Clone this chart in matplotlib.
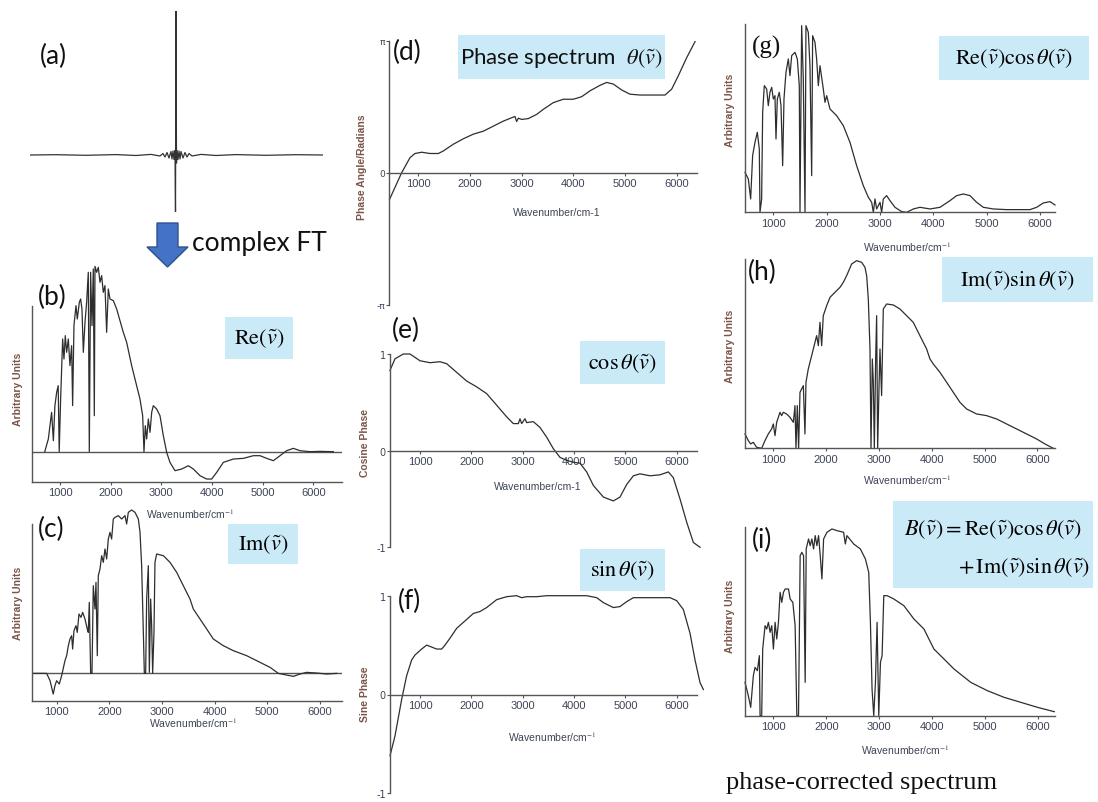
import matplotlib
matplotlib.use('Agg')
import matplotlib.pyplot as plt
from matplotlib.patches import Rectangle, Polygon
import numpy as np

plt.rcParams['mathtext.fontset'] = 'stix'

# (a) interferogram, optical path difference vs signal (arbitrary)
opd_a = [-146, -120, -90, -60, -40, -25, -16, -13, -11, -9, -7, -5, -4, -3, -2, -1,
         -0.5, 0, 0.5, 1, 2, 3, 4, 5, 7, 9, 11, 13, 16, 25, 40, 60, 90, 120, 147]
sig_a = [0, 0.3, -0.3, 0.4, -0.5, 0.6, -1.0, 1.5, -2.0, 2.5, -3.0, 3.5, -4.0, 4.0,
         -4.5, 4.5, -57, 144, -8, 4.5, -4.5, 4.0, -4.0, 3.5, -3.0, 2.5, -2.0, 1.5,
         -1.0, 0.6, -0.5, 0.4, -0.3, 0.3, 0]

# (b) real part
wn_b = [700, 770, 835, 870, 900, 935, 965, 985, 1013, 1053, 1079, 1105, 1132, 1165,
        1197, 1230, 1250, 1276, 1316, 1342, 1382, 1408, 1434, 1461, 1494, 1526, 1559,
        1579, 1605, 1632, 1658, 1678, 1691, 1724, 1757, 1790, 1823, 1855, 1888, 1921,
        1954, 1987, 2053, 2119, 2184, 2250, 2316, 2415, 2513, 2579, 2632, 2658, 2684,
        2711, 2744, 2777, 2810, 2842, 2908, 2974, 3040, 3106, 3171, 3270, 3402, 3533,
        3632, 3764, 3895, 3994, 4093, 4224, 4422, 4619, 4816, 4948, 5080, 5211, 5343,
        5474, 5606, 5738, 5935, 6132, 6396]
re_b = [0, 38, 118, 33, 138, 178, 198, 0, 158, 338, 278, 348, 298, 338, 258, 318, 138,
        378, 438, 398, 448, 458, 428, 298, 388, 448, 538, 0, 538, 378, 548, 108, 556,
        538, 553, 508, 528, 478, 498, 358, 488, 458, 453, 428, 393, 358, 328, 258, 198,
        158, 108, 0, 78, 38, 98, 58, 118, 138, 128, 108, 48, -2, -32, -57, -52, -42,
        -52, -72, -82, -82, -62, -32, -22, -20, -12, -12, -20, -27, -12, 3, 10, 3, 0,
        1, 0]

# (c) imaginary part
wn_c = [560, 810, 875, 935, 968, 1000, 1050, 1095, 1158, 1190, 1222, 1253, 1285, 1304,
        1329, 1367, 1392, 1424, 1462, 1494, 1538, 1582, 1601, 1620, 1646, 1671, 1696,
        1728, 1747, 1772, 1791, 1823, 1855, 1886, 1918, 1950, 1981, 2013, 2044, 2076,
        2108, 2171, 2234, 2298, 2329, 2361, 2424, 2488, 2551, 2583, 2614, 2646, 2665,
        2690, 2709, 2741, 2760, 2785, 2804, 2823, 2848, 2867, 2899, 3026, 3152, 3279,
        3405, 3532, 3595, 3722, 3849, 3975, 4165, 4355, 4608, 4861, 5051, 5209, 5367,
        5494, 5621, 5747, 5937, 6127, 6317]
im_c = [0, 0, -22, -62, -37, -22, -32, -7, 38, 53, 83, 103, 113, 73, 128, 143, 123,
        178, 168, 183, 163, 133, 123, 213, 0, 0, 263, 193, 273, 53, 293, 313, 353, 333,
        373, 343, 403, 423, 403, 463, 468, 473, 463, 473, 448, 483, 490, 483, 463, 423,
        323, 123, 0, 0, 223, 323, 3, 223, 143, 0, 123, 333, 358, 353, 333, 303, 263,
        223, 193, 163, 133, 103, 83, 68, 53, 33, 18, 0, -5, -9, -2, 3, 1, -2, 0]

# (d) phase spectrum, radians
wn_d = [440, 677, 839, 935, 1065, 1226, 1387, 1484, 1677, 1871, 2064, 2258, 2451, 2645,
        2806, 2870, 2903, 2935, 3000, 3129, 3290, 3419, 3612, 3806, 3999, 4160, 4322,
        4515, 4644, 4773, 4935, 5096, 5289, 5547, 5773, 5902, 6031, 6193, 6354]
phase_d = [-0.64, 0.0, 0.36, 0.46, 0.49, 0.46, 0.46, 0.52, 0.68, 0.81, 0.92, 0.99,
           1.11, 1.23, 1.31, 1.34, 1.22, 1.30, 1.27, 1.29, 1.39, 1.51, 1.67, 1.75, 1.75,
           1.81, 1.95, 2.08, 2.15, 2.11, 1.97, 1.87, 1.85, 1.85, 1.85, 1.99, 2.31, 2.74,
           3.12]

# (e) cosine of phase
wn_e = [415, 513, 675, 805, 1000, 1195, 1389, 1519, 1714, 1909, 2103, 2298, 2493, 2687,
        2817, 2915, 2947, 2979, 3044, 3077, 3207, 3336, 3466, 3596, 3726, 3856, 3985,
        4115, 4245, 4375, 4570, 4764, 4894, 5024, 5154, 5283, 5478, 5673, 5835, 5932,
        6062, 6192, 6322, 6452]
cos_e = [0.83, 0.95, 1.0, 1.0, 0.93, 0.91, 0.92, 0.90, 0.81, 0.72, 0.66, 0.59, 0.47,
         0.35, 0.28, 0.28, 0.33, 0.28, 0.33, 0.29, 0.30, 0.24, 0.14, 0.02, -0.07, -0.10,
         -0.12, -0.13, -0.22, -0.36, -0.48, -0.52, -0.48, -0.35, -0.26, -0.24, -0.26,
         -0.25, -0.22, -0.28, -0.50, -0.74, -0.95, -1.0]

# (f) sine of phase
wn_f = [416, 513, 643, 740, 838, 903, 1032, 1130, 1227, 1325, 1422, 1487, 1584, 1714,
        1909, 2038, 2168, 2298, 2493, 2687, 2882, 2979, 3077, 3272, 3466, 3726, 3985,
        4245, 4440, 4570, 4764, 4894, 5024, 5154, 5348, 5608, 5868, 5997, 6127, 6257,
        6354, 6452, 6517]
sin_f = [-0.62, -0.42, -0.05, 0.19, 0.35, 0.40, 0.46, 0.50, 0.48, 0.46, 0.46, 0.50,
         0.57, 0.67, 0.76, 0.82, 0.84, 0.88, 0.96, 0.99, 1.0, 0.98, 0.99, 0.99, 1.0,
         1.0, 1.0, 1.0, 0.98, 0.93, 0.88, 0.89, 0.94, 0.98, 0.98, 0.98, 0.98, 0.95,
         0.86, 0.62, 0.35, 0.12, 0.05]

# (g) Re * cos
wn_g = [469, 531, 575, 612, 656, 700, 737, 750, 781, 800, 831, 875, 906, 937, 969,
        1000, 1031, 1050, 1075, 1112, 1144, 1175, 1200, 1237, 1281, 1312, 1344, 1406,
        1450, 1487, 1500, 1531, 1562, 1594, 1612, 1656, 1687, 1719, 1737, 1781, 1812,
        1844, 1875, 1937, 1969, 2000, 2062, 2187, 2312, 2437, 2562, 2687, 2781, 2844,
        2875, 2906, 2937, 3000, 3031, 3062, 3125, 3187, 3281, 3406, 3500, 3625, 3750,
        3937, 4125, 4312, 4437, 4562, 4687, 4812, 4937, 5125, 5375, 5625, 5812, 5937,
        6062, 6187, 6281]
recos_g = [120, 100, 40, 170, 210, 240, 190, 0, 40, 300, 380, 370, 320, 360, 375, 340,
           350, 220, 340, 360, 320, 140, 340, 420, 460, 410, 470, 480, 460, 380, 0, 560,
           400, 0, 560, 540, 440, 110, 530, 510, 460, 380, 440, 370, 330, 350, 310, 290,
           260, 210, 140, 80, 45, 30, 0, 40, 10, 30, 0, 40, 50, 35, 15, 2, 0, 10, 15, 10,
           15, 35, 50, 55, 50, 30, 15, 10, 8, 8, 8, 15, 28, 32, 22]

# (h) Im * sin
wn_h = [464, 527, 571, 621, 684, 779, 842, 905, 968, 1000, 1032, 1063, 1095, 1126,
        1158, 1189, 1252, 1315, 1379, 1410, 1429, 1454, 1479, 1505, 1536, 1568, 1599,
        1618, 1662, 1726, 1789, 1820, 1852, 1883, 1915, 1946, 2010, 2073, 2167, 2262,
        2325, 2388, 2483, 2577, 2672, 2735, 2767, 2798, 2830, 2849, 2874, 2893, 2912,
        2937, 2956, 2975, 3000, 3019, 3050, 3082, 3145, 3271, 3397, 3523, 3649, 3775,
        3902, 3965, 4028, 4154, 4281, 4407, 4533, 4659, 4848, 5038, 5227, 5416, 5606,
        5795, 5984, 6142, 6300]
imsin_h = [43, 23, 13, 18, 3, 0, 23, 43, 58, 73, 38, 78, 93, 108, 98, 108, 103, 93, 78,
           128, 0, 128, 0, 168, 178, 188, 43, 198, 238, 278, 318, 338, 308, 378, 308,
           398, 428, 453, 468, 483, 498, 518, 553, 563, 558, 543, 518, 448, 298, 0, 268,
           198, 0, 268, 398, 0, 178, 298, 158, 418, 433, 430, 418, 398, 378, 338, 298,
           268, 253, 228, 198, 168, 138, 118, 103, 98, 88, 73, 58, 43, 28, 13, 0]

# (i) phase-corrected spectrum
wn_i = [462, 525, 570, 620, 652, 696, 734, 747, 778, 797, 842, 873, 905, 937, 968, 1000,
        1032, 1063, 1095, 1127, 1158, 1190, 1222, 1285, 1317, 1367, 1411, 1443, 1475,
        1506, 1538, 1570, 1601, 1620, 1665, 1696, 1728, 1760, 1791, 1823, 1855, 1886,
        1918, 1950, 2013, 2108, 2203, 2329, 2361, 2392, 2519, 2646, 2741, 2804, 2836,
        2867, 2899, 2931, 2962, 2994, 3026, 3057, 3089, 3152, 3279, 3469, 3659, 3849,
        4038, 4165, 4418, 4735, 5051, 5367, 5684, 6000, 6317]
b_i = [100, 60, 25, 120, 145, 135, 180, 0, 0, 200, 270, 260, 280, 250, 270, 200, 280,
       230, 280, 370, 340, 370, 380, 380, 350, 340, 270, 0, 0, 480, 490, 480, 100, 500,
       530, 510, 530, 500, 540, 510, 540, 480, 410, 530, 550, 560, 555, 550, 515, 540,
       515, 500, 470, 430, 280, 80, 0, 100, 280, 0, 160, 180, 360, 360, 350, 330, 290,
       260, 200, 180, 140, 100, 75, 55, 40, 25, 12]

wn_ticks = [1000, 2000, 3000, 4000, 5000, 6000]

W, H = 1098, 803
LINE = '#2e2e2e'
SPINE = '#555555'
TICKC = '#3e4456'
YLABC = '#7a5448'
BOXC = '#cbeaf8'
SANS = 'Liberation Sans'

fig = plt.figure(figsize=(W / 100, H / 100), dpi=100)


def rect(x0, y0, x1, y1):
    return [x0 / W, 1 - y1 / H, (x1 - x0) / W, (y1 - y0) / H]


def fx(x):
    return x / W


def fy(y):
    return 1 - y / H


def setup(ax, xlim, ylim, zero_axis=False):
    ax.set_xlim(xlim)
    ax.set_ylim(ylim)
    ax.patch.set_alpha(0)
    for s in ('top', 'right'):
        ax.spines[s].set_visible(False)
    for s in ('left', 'bottom'):
        ax.spines[s].set_color(SPINE)
        ax.spines[s].set_linewidth(1.0)
    if zero_axis:
        ax.spines['bottom'].set_position(('data', 0))
    ax.set_xticks(wn_ticks)
    ax.set_xticklabels([str(t) for t in wn_ticks])
    ax.tick_params(axis='x', length=2, width=0.8, color=SPINE, pad=2,
                   labelsize=8, labelcolor=TICKC)
    for lab in ax.get_xticklabels():
        lab.set_family(SANS)


def box(x0, y0, x1, y1):
    fig.add_artist(Rectangle((fx(x0), fy(y1)), fx(x1 - x0), (y1 - y0) / H,
                             transform=fig.transFigure, facecolor=BOXC,
                             edgecolor='none', zorder=0))


def ylab(x, y, s, size=7.5):
    fig.text(fx(x), fy(y), s, rotation=90, ha='center', va='center',
             fontsize=size, color=YLABC, family=SANS, fontweight='bold')


def xlab(x, y, s, size=7.5):
    fig.text(fx(x), fy(y), s, ha='center', va='center', fontsize=size,
             color=TICKC, family=SANS)


def panel_label(x, y, s, family='Lato', size=19):
    fig.text(fx(x), fy(y), s, ha='left', va='center', fontsize=size,
             family=family, color='#111111')


# ---- (a) interferogram
ax_a = fig.add_axes(rect(30, 12, 323, 213))
ax_a.set_xlim(-146, 147)
ax_a.set_ylim(-57, 144)
ax_a.axis('off')
ax_a.plot(opd_a, sig_a, color='#333333', lw=0.9)
panel_label(40, 56, '(a)')

# arrow + text
arrow = [(157, 224), (178, 224), (178, 248), (188, 248), (167.5, 268),
         (147, 248), (157, 248)]
fig.add_artist(Polygon([(fx(x), fy(y)) for x, y in arrow], closed=True,
                       transform=fig.transFigure, facecolor='#4472c4',
                       edgecolor='#2f528f', lw=1))
fig.text(fx(192), fy(243), 'complex FT', ha='left', va='center', fontsize=19,
         family='Lato', color='#111111')

# ---- (b)
ax_b = fig.add_axes(rect(32.3, 267.3, 341.7, 482.7))
setup(ax_b, (454, 6560), (-90, 556))
ax_b.spines['left'].set_bounds(-90, 438)
ax_b.set_yticks([])
ax_b.axhline(0, color=SPINE, lw=1.0)
ax_b.plot(wn_b, re_b, color=LINE, lw=0.9, clip_on=False)
panel_label(38, 297, '(b)')
box(225, 318, 293, 360)
fig.text(fx(259), fy(339), r'$\mathrm{Re}(\tilde{v})$', ha='center', va='center',
         fontsize=16)
ylab(18, 389, 'Arbitrary Units')
xlab(190, 514, 'Wavenumber/cm$^{-1}$')

# ---- (c)
ax_c = fig.add_axes(rect(32.3, 511, 341.7, 701.7))
setup(ax_c, (538, 6412), (-82, 490))
ax_c.spines['left'].set_bounds(-82, 448)
ax_c.set_yticks([])
ax_c.axhline(0, color=SPINE, lw=1.0)
ax_c.plot(wn_c, im_c, color=LINE, lw=0.9, clip_on=False)
panel_label(38, 529, '(c)')
box(228, 525, 298, 565)
fig.text(fx(263), fy(545), r'$\mathrm{Im}(\tilde{v})$', ha='center', va='center',
         fontsize=16)
ylab(18, 603, 'Arbitrary Units')
xlab(193, 723, 'Wavenumber/cm$^{-1}$')

# ---- (d)
ax_d = fig.add_axes(rect(389.3, 41.7, 696.7, 306))
setup(ax_d, (439, 6386), (-np.pi, np.pi), zero_axis=True)
ax_d.set_yticks([-np.pi, 0, np.pi])
ax_d.set_yticklabels(['-π', '0', 'π'])
ax_d.tick_params(axis='y', length=2, width=0.8, color=SPINE, pad=1,
                 labelsize=6.5, labelcolor=TICKC)
ax_d.plot(wn_d, phase_d, color=LINE, lw=0.9, clip_on=False)
panel_label(393, 52, '(d)')
box(458, 36, 665, 80)
fig.text(fx(561), fy(58), r'Phase spectrum  $\theta(\tilde{v})$', ha='center',
         va='center', fontsize=16, family='Lato', color='#111111')
ylab(362, 167, 'Phase Angle/Radians', size=7.5)
xlab(557, 213, 'Wavenumber/cm-1', size=7.5)

# ---- (e)
ax_e = fig.add_axes(rect(390, 355, 696.7, 548.3))
setup(ax_e, (416, 6387), (-1, 1), zero_axis=True)
ax_e.set_yticks([-1, 0, 1])
ax_e.set_yticklabels(['-1', '0', '1'])
ax_e.tick_params(axis='y', length=2, width=0.8, color=SPINE, pad=1,
                 labelsize=7, labelcolor=TICKC)
ax_e.plot(wn_e, cos_e, color=LINE, lw=0.9, clip_on=False)
panel_label(392, 330, '(e)')
box(580, 342, 665, 385)
fig.text(fx(622.5), fy(363.5), r'$\cos\theta(\tilde{v})$', ha='center',
         va='center', fontsize=16)
ylab(365, 443, 'Cosine Phase', size=7.5)
xlab(538, 487, 'Wavenumber/cm-1', size=7.5)

# ---- (f)
ax_f = fig.add_axes(rect(390, 596.7, 696.7, 794.3))
setup(ax_f, (416, 6387), (-1, 1), zero_axis=True)
ax_f.set_yticks([-1, 0, 1])
ax_f.set_yticklabels(['-1', '0', '1'])
ax_f.tick_params(axis='y', length=2, width=0.8, color=SPINE, pad=1,
                 labelsize=7, labelcolor=TICKC)
ax_f.plot(wn_f, sin_f, color=LINE, lw=0.9, clip_on=False)
panel_label(398, 601, '(f)')
box(580, 550, 665, 592)
fig.text(fx(622.5), fy(571), r'$\sin\theta(\tilde{v})$', ha='center',
         va='center', fontsize=16)
ylab(365, 694, 'Sine Phase', size=7.5)
xlab(552, 737, 'Wavenumber/cm$^{-1}$', size=7.5)

# ---- (g)
ax_g = fig.add_axes(rect(745, 25, 1055, 213.3))
setup(ax_g, (469, 6281), (0, 565))
ax_g.set_yticks([])
ax_g.plot(wn_g, recos_g, color=LINE, lw=0.9, clip_on=False)
panel_label(752, 47, '(g)', family='Liberation Serif', size=18)
box(939, 37, 1089, 81)
fig.text(fx(1014), fy(59), r'$\mathrm{Re}(\tilde{v})\cos\theta(\tilde{v})$',
         ha='center', va='center', fontsize=16)
ylab(730, 110, 'Arbitrary Units')
xlab(907, 247, 'Wavenumber/cm$^{-1}$')

# ---- (h)
ax_h = fig.add_axes(rect(745, 260, 1055, 449.3))
setup(ax_h, (464, 6332), (0, 568))
ax_h.set_yticks([])
ax_h.plot(wn_h, imsin_h, color=LINE, lw=0.9, clip_on=False)
panel_label(748, 272, '(h)')
box(942, 258, 1093, 303)
fig.text(fx(1017.5), fy(280.5), r'$\mathrm{Im}(\tilde{v})\sin\theta(\tilde{v})$',
         ha='center', va='center', fontsize=16)
ylab(730, 346, 'Arbitrary Units')
xlab(907, 480, 'Wavenumber/cm$^{-1}$')

# ---- (i)
ax_i = fig.add_axes(rect(745, 528.3, 1055, 716.7))
setup(ax_i, (462, 6330), (0, 565))
ax_i.set_yticks([])
ax_i.plot(wn_i, b_i, color=LINE, lw=0.9, clip_on=False)
panel_label(752, 540, '(i)')
box(893, 502, 1093, 589)
fig.text(fx(1082), fy(530),
         r'$B(\tilde{v}) = \mathrm{Re}(\tilde{v})\cos\theta(\tilde{v})$',
         ha='right', va='center', fontsize=16)
fig.text(fx(1090), fy(568), r'$+\,\mathrm{Im}(\tilde{v})\sin\theta(\tilde{v})$',
         ha='right', va='center', fontsize=16)
ylab(730, 616, 'Arbitrary Units')
xlab(905, 750, 'Wavenumber/cm$^{-1}$')

fig.text(fx(726), fy(783), 'phase-corrected spectrum', ha='left', va='center',
         fontsize=19, family='Liberation Serif', color='#111111')

fig.savefig('out.png', dpi=100)
